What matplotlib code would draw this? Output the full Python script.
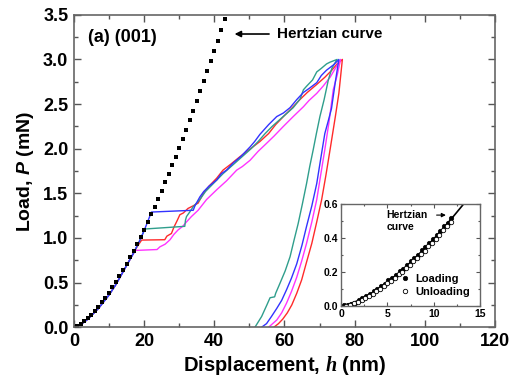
import matplotlib
matplotlib.use('Agg')
import matplotlib.pyplot as plt
from matplotlib.ticker import MultipleLocator

plt.rcParams['font.family'] = ['Liberation Sans', 'DejaVu Sans']
plt.rcParams['mathtext.fontset'] = 'custom'
plt.rcParams['mathtext.it'] = 'Liberation Serif:italic:bold'
plt.rcParams['mathtext.sf'] = 'Liberation Sans:italic:bold'

# Hertzian fit (dots)
hertz_h = list(range(0, 44))
hertz_P = [0, 0.012, 0.035, 0.064, 0.098, 0.137, 0.180, 0.227, 0.277, 0.330,
           0.387, 0.446, 0.509, 0.573, 0.641, 0.711, 0.783, 0.858, 0.934, 1.013,
           1.094, 1.177, 1.263, 1.350, 1.439, 1.529, 1.622, 1.717, 1.813, 1.911,
           2.010, 2.112, 2.215, 2.319, 2.426, 2.533, 2.643, 2.754, 2.866, 2.980,
           3.095, 3.212, 3.330, 3.450]

# common elastic part before pop-in
pre_h = [0, 1, 2, 3, 4, 5, 6, 7, 8, 9, 10, 11, 12, 13, 14, 15, 16, 17]
pre_P = [0, 0.01, 0.03, 0.06, 0.09, 0.13, 0.17, 0.21, 0.26, 0.31, 0.36, 0.42,
         0.48, 0.55, 0.62, 0.69, 0.76, 0.83]

# red
red_h = pre_h + [18, 19.3, 25.9, 26.5, 27.8, 28.5, 29.5, 30.2, 31.2, 32.5, 34, 35.4,
                 36.9, 38.5, 40.7, 42.5, 44.5, 47.3, 49, 51, 53, 55.5, 57.5, 59.7,
                 62, 64.4, 66.5, 69.2, 71.5, 73.5, 75, 76.5,
                 75.5, 74.5, 73, 71.8, 70.6, 69.2, 67.8, 66.3, 64.9, 63.5, 62.1,
                 60.8, 59.5, 58.3, 57]
red_P = pre_P + [0.90, 0.976, 0.98, 1.02, 1.05, 1.12, 1.20, 1.26, 1.28, 1.33, 1.36,
                 1.39, 1.50, 1.58, 1.67, 1.76, 1.82, 1.91, 1.96, 2.02, 2.08, 2.17,
                 2.27, 2.36, 2.45, 2.55, 2.63, 2.72, 2.80, 2.88, 2.95, 3.0,
                 2.62, 2.36, 1.99, 1.70, 1.43, 1.18, 0.94, 0.73, 0.53, 0.38, 0.25,
                 0.16, 0.09, 0.04, 0]

# blue
blue_h = pre_h + [18, 19, 20, 21, 22.1, 34, 34.5, 35.9, 37, 38.5, 40.7, 42, 43.5,
                  45.4, 47.5, 50.2, 51.5, 53, 55.5, 57.8, 59.7, 61.6, 63.5, 65.4,
                  67.2, 69.2, 70.5, 72, 74, 75.5,
                  74.5, 73.4, 72.4, 71.5, 70.3, 69.2, 67.8, 66.3, 65, 63.5, 62,
                  60.6, 59.2, 57.8, 56.3, 54.9, 53.5]
blue_P = pre_P + [0.91, 0.99, 1.08, 1.18, 1.29, 1.31, 1.36, 1.46, 1.52, 1.58, 1.65,
                  1.72, 1.76, 1.84, 1.91, 2.02, 2.08, 2.16, 2.27, 2.36, 2.40, 2.46,
                  2.55, 2.63, 2.68, 2.74, 2.82, 2.88, 2.94, 3.0,
                  2.75, 2.45, 2.30, 2.17, 1.88, 1.61, 1.36, 1.13, 0.92, 0.71, 0.55,
                  0.42, 0.30, 0.21, 0.12, 0.04, 0]

# teal
teal_h = pre_h + [18, 19, 20.2, 31.6, 31.8, 32.1, 33, 34, 35.9, 37.5, 39, 40.5,
                  42.5, 44.5, 46.5, 48.5, 50.5, 52.5, 54.5, 56.5, 58.5, 60.5, 62.5,
                  64.5, 65.4, 66.3, 68, 69.2, 70.5, 72, 73, 75,
                  73.5, 72.5, 71.3, 70.1, 69.1, 68.2, 67.2, 66.3, 65.1, 63.9, 62.7,
                  61.6, 60.2, 58.7, 57.5, 57.2, 55.9, 55, 53.5, 51.6]
teal_P = pre_P + [0.91, 0.99, 1.10, 1.13, 1.20, 1.24, 1.29, 1.35, 1.43, 1.52, 1.58,
                  1.64, 1.72, 1.79, 1.86, 1.93, 2.00, 2.08, 2.17, 2.25, 2.32, 2.39,
                  2.46, 2.56, 2.66, 2.70, 2.77, 2.86, 2.90, 2.95, 2.97, 3.0,
                  2.90, 2.77, 2.55, 2.36, 2.17, 1.99, 1.80, 1.61, 1.38, 1.16, 0.97,
                  0.79, 0.63, 0.49, 0.38, 0.34, 0.33, 0.25, 0.12, 0]

# magenta
mag_h = pre_h + [17.5, 23.7, 24.5, 26, 27.4, 28.5, 29.7, 31, 32.1, 33.5, 35.4, 37.8,
                 40.7, 43.5, 46.4, 48, 50.2, 52.5, 54.9, 57, 59.7, 62.5, 65.4, 67,
                 69.2, 71, 73, 74.5, 76,
                 75, 73.9, 72.7, 71.5, 70.3, 69.2, 67.8, 66.3, 64.9, 63.5, 62,
                 60.6, 59.2, 57.8, 55.5]
mag_P = pre_P + [0.86, 0.87, 0.90, 0.93, 0.98, 1.04, 1.09, 1.13, 1.18, 1.24, 1.31,
                 1.43, 1.54, 1.64, 1.76, 1.80, 1.87, 1.97, 2.06, 2.14, 2.25, 2.36,
                 2.47, 2.54, 2.62, 2.70, 2.80, 2.90, 3.0,
                 2.82, 2.66, 2.30, 1.99, 1.70, 1.43, 1.18, 0.94, 0.74, 0.56, 0.40,
                 0.27, 0.16, 0.08, 0]

# inset data
ins_hertz_h = [0, 1, 2, 3, 4, 5, 6, 7, 8, 9, 10, 11, 12, 13, 13.5]
ins_hertz_P = [0, 0.0125, 0.035, 0.065, 0.100, 0.140, 0.184, 0.232, 0.283, 0.338,
               0.395, 0.456, 0.520, 0.586, 0.620]
load_h = [0.3, 0.7, 1.1, 1.5, 1.9, 2.3, 2.7, 3.1, 3.5, 3.9, 4.3, 4.7, 5.1, 5.5, 5.9,
          6.3, 6.7, 7.1, 7.5, 7.9, 8.3, 8.7, 9.1, 9.5, 9.9, 10.3, 10.7, 11.1, 11.5, 11.9]
load_P = [0.005, 0.008, 0.010, 0.020, 0.035, 0.045, 0.058, 0.070, 0.088, 0.098,
          0.118, 0.130, 0.150, 0.166, 0.182, 0.205, 0.220, 0.242, 0.262, 0.285,
          0.302, 0.328, 0.348, 0.372, 0.392, 0.418, 0.440, 0.468, 0.490, 0.515]
unload_h = [0.5, 1.0, 1.4, 1.8, 2.2, 2.6, 3.0, 3.4, 3.8, 4.2, 4.6, 5.0, 5.4, 5.8, 6.2,
            6.6, 7.0, 7.4, 7.8, 8.2, 8.6, 9.0, 9.4, 9.8, 10.2, 10.6, 11.0, 11.4, 11.8]
unload_P = [0.002, 0.006, 0.015, 0.025, 0.034, 0.046, 0.060, 0.070, 0.085, 0.100,
            0.115, 0.132, 0.148, 0.165, 0.185, 0.202, 0.222, 0.240, 0.262, 0.282,
            0.305, 0.325, 0.350, 0.372, 0.395, 0.420, 0.445, 0.470, 0.495]

fig = plt.figure(figsize=(5.13, 3.80), dpi=100)
ax = fig.add_axes([0.144, 0.139, 0.821, 0.822])

ax.plot(red_h, red_P, color='#ff2a2a', lw=1)
ax.plot(mag_h, mag_P, color='#ff33ff', lw=1)
ax.plot(teal_h, teal_P, color='#2f9e8c', lw=1)
ax.plot(blue_h, blue_P, color='#3333ff', lw=1)
ax.plot(hertz_h, hertz_P, 's', color='black', ms=2.8, mew=0)

ax.set_xlim(0, 120)
ax.set_ylim(0, 3.5)
ax.xaxis.set_major_locator(MultipleLocator(20))
ax.xaxis.set_minor_locator(MultipleLocator(10))
ax.yaxis.set_major_locator(MultipleLocator(0.5))
ax.yaxis.set_minor_locator(MultipleLocator(0.25))
ax.yaxis.set_major_formatter(matplotlib.ticker.FormatStrFormatter('%.1f'))
ax.tick_params(which='both', direction='in', top=True, right=True, width=1, color='#555555')
ax.tick_params(which='major', length=5, labelsize=13, pad=4)
ax.tick_params(which='minor', length=3)
for lab in ax.get_xticklabels() + ax.get_yticklabels():
    lab.set_fontweight('bold')
for s in ax.spines.values():
    s.set_color('#666666')
    s.set_linewidth(1.2)

ax.set_xlabel(r'Displacement, $\mathit{h}$ (nm)', fontsize=14.5, fontweight='bold', labelpad=3)
ax.set_ylabel(r'Load, $\mathsf{P}$ (mN)', fontsize=14, fontweight='bold', labelpad=5)

ax.text(4, 3.25, '(a) (001)', fontsize=13, fontweight='bold', va='center')
ax.annotate('', xy=(45, 3.285), xytext=(56.4, 3.285),
            arrowprops=dict(arrowstyle='-|>', color='black', lw=1.2, mutation_scale=9))
ax.text(58, 3.285, 'Hertzian curve', fontsize=11, fontweight='bold', va='center')

# inset
ins = fig.add_axes([0.665, 0.195, 0.271, 0.268])
ins.plot(ins_hertz_h, ins_hertz_P, color='black', lw=1.2)
ins.plot(load_h, load_P, 'o', color='black', ms=3.2, mew=0.5, label='Loading')
ins.plot(unload_h, unload_P, 'o', mfc='white', mec='black', ms=3.2, mew=0.6, label='Unloading')
ins.set_xlim(0, 15)
ins.set_ylim(0, 0.6)
ins.xaxis.set_major_locator(MultipleLocator(5))
ins.xaxis.set_minor_locator(MultipleLocator(2.5))
ins.yaxis.set_major_locator(MultipleLocator(0.2))
ins.yaxis.set_minor_locator(MultipleLocator(0.1))
ins.yaxis.set_major_formatter(matplotlib.ticker.FormatStrFormatter('%.1f'))
ins.tick_params(which='both', direction='in', top=True, right=True, width=0.8, color='#555555')
ins.tick_params(which='major', length=3, labelsize=7.5, pad=2)
ins.tick_params(which='minor', length=1.5)
for lab in ins.get_xticklabels() + ins.get_yticklabels():
    lab.set_fontweight('bold')
for s in ins.spines.values():
    s.set_color('#666666')
    s.set_linewidth(1)

ins.text(4.9, 0.535, 'Hertzian', fontsize=7.5, fontweight='bold', va='center')
ins.text(4.9, 0.465, 'curve', fontsize=7.5, fontweight='bold', va='center')
ins.annotate('', xy=(11.6, 0.535), xytext=(10.0, 0.535),
             arrowprops=dict(arrowstyle='-|>', color='black', lw=0.8, mutation_scale=6))
leg = ins.legend(loc='lower right', bbox_to_anchor=(0.99, 0.0), frameon=False,
                 fontsize=8, handlelength=1.0, handletextpad=0.4,
                 labelspacing=0.25, borderpad=0.3)
for t in leg.get_texts():
    t.set_fontweight('bold')

fig.savefig('out.png', dpi=100)
